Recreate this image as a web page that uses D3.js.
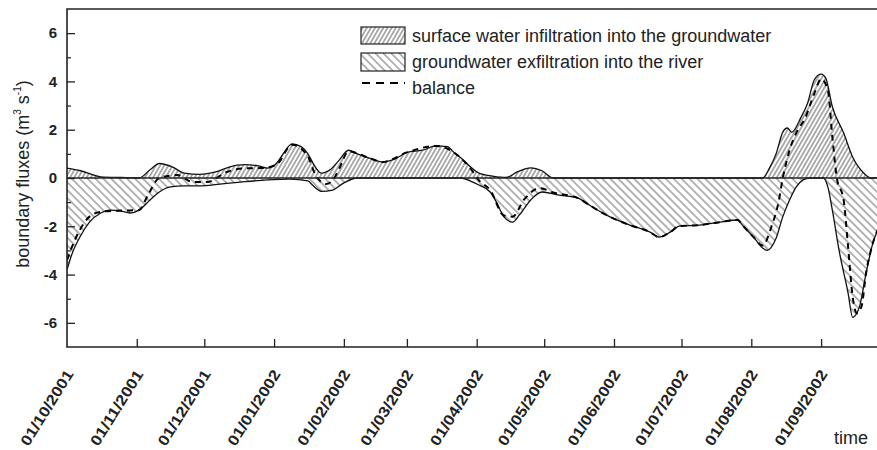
<!DOCTYPE html>
<html>
<head>
<meta charset="utf-8">
<script src="https://cdn.jsdelivr.net/npm/d3@7"></script>
<style>
body{margin:0;background:#fff;}
svg{display:block;font-family:Arial,"Liberation Sans",sans-serif;}
</style>
</head>
<body>
<script>
// surface water infiltration into the groundwater (positive)
var infiltration = [
  ["2001-10-01",0.41],["2001-10-07",0.3],["2001-10-16",0.05],["2001-10-25",0.02],["2001-11-02",0.0],
  ["2001-11-07",0.35],["2001-11-11",0.6],["2001-11-17",0.45],["2001-11-22",0.2],["2001-11-29",0.15],
  ["2001-12-06",0.25],["2001-12-12",0.45],["2001-12-19",0.55],["2001-12-25",0.5],["2001-12-29",0.41],
  ["2002-01-02",0.6],["2002-01-05",1.0],["2002-01-09",1.41],["2002-01-13",1.3],["2002-01-16",1.0],
  ["2002-01-19",0.5],["2002-01-22",0.2],["2002-01-26",0.35],["2002-01-30",0.75],["2002-02-03",1.15],
  ["2002-02-07",1.0],["2002-02-13",0.8],["2002-02-18",0.66],["2002-02-24",0.8],["2002-03-01",1.06],
  ["2002-03-08",1.15],["2002-03-14",1.33],["2002-03-19",1.3],["2002-03-22",1.05],["2002-03-26",0.75],
  ["2002-03-30",0.4],["2002-04-02",0.2],["2002-04-08",0.08],["2002-04-14",0.02],["2002-04-19",0.25],
  ["2002-04-25",0.42],["2002-04-30",0.3],["2002-05-05",0.0],["2002-08-06",0.0],["2002-08-09",0.4],
  ["2002-08-12",1.0],["2002-08-15",1.9],["2002-08-17",2.07],["2002-08-19",1.9],["2002-08-23",2.5],
  ["2002-08-26",3.1],["2002-08-29",4.07],["2002-09-01",4.3],["2002-09-03",4.15],["2002-09-06",2.95],
  ["2002-09-11",1.87],["2002-09-15",0.87],["2002-09-20",0.2],["2002-09-23",0.0],["2002-09-27",0.0]
];

// groundwater exfiltration into the river (negative)
var exfiltration = [
  ["2001-10-01",-3.8],["2001-10-03",-3.2],["2001-10-07",-2.4],["2001-10-11",-1.83],["2001-10-16",-1.45],
  ["2001-10-20",-1.33],["2001-10-25",-1.37],["2001-10-29",-1.45],["2001-11-02",-1.33],["2001-11-07",-0.9],
  ["2001-11-11",-0.58],["2001-11-16",-0.37],["2001-11-22",-0.33],["2001-11-29",-0.33],["2001-12-08",-0.25],
  ["2001-12-17",-0.17],["2001-12-29",-0.08],["2002-01-08",-0.05],["2002-01-16",-0.12],["2002-01-18",-0.29],
  ["2002-01-22",-0.55],["2002-01-27",-0.5],["2002-02-01",-0.2],["2002-02-07",0.0],["2002-03-25",0.0],
  ["2002-03-29",-0.12],["2002-04-02",-0.29],["2002-04-07",-0.58],["2002-04-10",-1.04],["2002-04-13",-1.6],
  ["2002-04-17",-1.83],["2002-04-20",-1.53],["2002-04-25",-0.91],["2002-04-30",-0.58],["2002-05-07",-0.7],
  ["2002-05-16",-0.83],["2002-05-21",-1.12],["2002-05-30",-1.6],["2002-06-08",-1.95],["2002-06-17",-2.24],
  ["2002-06-21",-2.45],["2002-06-26",-2.24],["2002-06-30",-1.99],["2002-07-09",-1.95],["2002-07-18",-1.83],
  ["2002-07-26",-1.74],["2002-07-28",-1.95],["2002-08-02",-2.45],["2002-08-06",-2.9],["2002-08-08",-3.0],
  ["2002-08-12",-2.5],["2002-08-15",-1.6],["2002-08-18",-0.91],["2002-08-21",-0.37],["2002-08-24",-0.08],
  ["2002-08-27",0.0],["2002-09-02",0.0],["2002-09-04",-0.37],["2002-09-06",-1.33],["2002-09-09",-3.0],
  ["2002-09-13",-4.77],["2002-09-15",-5.77],["2002-09-18",-5.35],["2002-09-21",-3.94],["2002-09-24",-2.7],
  ["2002-09-27",-2.0]
];

// balance (dashed)
var balance = [
  ["2001-10-01",-3.4],["2001-10-03",-2.9],["2001-10-07",-2.1],["2001-10-11",-1.6],["2001-10-16",-1.4],
  ["2001-10-25",-1.35],["2001-11-02",-1.33],["2001-11-06",-0.7],["2001-11-11",0.0],["2001-11-19",0.12],
  ["2001-11-26",-0.17],["2001-12-02",-0.17],["2001-12-11",0.25],["2001-12-19",0.4],["2001-12-26",0.41],
  ["2002-01-02",0.55],["2002-01-09",1.38],["2002-01-16",0.9],["2002-01-19",0.2],["2002-01-24",-0.25],
  ["2002-01-27",-0.1],["2002-01-30",0.4],["2002-02-03",1.1],["2002-02-13",0.8],["2002-02-18",0.66],
  ["2002-03-01",1.06],["2002-03-14",1.33],["2002-03-22",1.05],["2002-03-30",0.3],["2002-04-02",-0.1],
  ["2002-04-07",-0.5],["2002-04-13",-1.55],["2002-04-17",-1.6],["2002-04-22",-0.9],["2002-04-29",-0.42],
  ["2002-05-05",-0.6],["2002-05-16",-0.83],["2002-05-21",-1.12],["2002-05-30",-1.6],["2002-06-08",-1.95],
  ["2002-06-17",-2.24],["2002-06-21",-2.45],["2002-06-26",-2.24],["2002-06-30",-1.99],["2002-07-09",-1.95],
  ["2002-07-18",-1.83],["2002-07-26",-1.74],["2002-07-28",-1.95],["2002-08-02",-2.45],["2002-08-06",-2.8],
  ["2002-08-10",-2.0],["2002-08-13",-1.04],["2002-08-15",0.0],["2002-08-18",1.16],["2002-08-21",1.87],
  ["2002-08-25",2.5],["2002-08-29",3.5],["2002-09-01",4.1],["2002-09-04",3.65],["2002-09-06",1.7],
  ["2002-09-08",0.0],["2002-09-11",-0.9],["2002-09-13",-2.85],["2002-09-15",-4.9],["2002-09-17",-5.6],
  ["2002-09-19",-5.3],["2002-09-21",-3.94],["2002-09-24",-2.7],["2002-09-27",-2.0]
];

var monthTicks = ["01/10/2001","01/11/2001","01/12/2001","01/01/2002","01/02/2002","01/03/2002",
  "01/04/2002","01/05/2002","01/06/2002","01/07/2002","01/08/2002","01/09/2002"];
var yMajor = [-6,-4,-2,0,2,4,6];
var yMinor = [-5,-3,-1,1,3,5];
var legendLabels = ["surface water infiltration into the groundwater","groundwater exfiltration into the river","balance"];

var parseDate = d3.timeParse("%Y-%m-%d");
var parseTick = d3.timeParse("%d/%m/%Y");
function toPoints(arr){ return arr.map(function(d){ return {date: parseDate(d[0]), v: d[1]}; }); }
var posData = toPoints(infiltration), negData = toPoints(exfiltration), balData = toPoints(balance);

var W = 877, H = 450;
var pLeft = 67, pTop = 9, pBottom = 347;

var x = d3.scaleTime().domain([parseDate("2001-10-01"), parseDate("2002-10-01")]).range([pLeft, pLeft + 365*2.251]);
var y = d3.scaleLinear().domain([-7, 7]).range([pBottom, pTop]);

var svg = d3.select("body").append("svg").attr("width", W).attr("height", H);
var defs = svg.append("defs");

// hatch patterns
var pPos = defs.append("pattern").attr("id","hatchPos").attr("patternUnits","userSpaceOnUse")
  .attr("width",3.6).attr("height",6).attr("patternTransform","rotate(30)");
pPos.append("rect").attr("width",3.6).attr("height",6).attr("fill","#fff");
pPos.append("line").attr("x1",1.8).attr("x2",1.8).attr("y1",0).attr("y2",6).attr("stroke","#444").attr("stroke-width",0.9);

var pNeg = defs.append("pattern").attr("id","hatchNeg").attr("patternUnits","userSpaceOnUse")
  .attr("width",5.6).attr("height",6).attr("patternTransform","rotate(-45)");
pNeg.append("rect").attr("width",5.6).attr("height",6).attr("fill","#fff");
pNeg.append("line").attr("x1",2.8).attr("x2",2.8).attr("y1",0).attr("y2",6).attr("stroke","#555").attr("stroke-width",0.9);

defs.append("clipPath").attr("id","plotClip").append("rect")
  .attr("x",pLeft).attr("y",pTop).attr("width",W-pLeft).attr("height",pBottom-pTop);

var plot = svg.append("g").attr("clip-path","url(#plotClip)");

var area = d3.area().x(function(d){ return x(d.date); }).y0(y(0)).y1(function(d){ return y(d.v); }).curve(d3.curveMonotoneX);
var line = d3.line().x(function(d){ return x(d.date); }).y(function(d){ return y(d.v); }).curve(d3.curveMonotoneX);

plot.append("path").datum(negData).attr("d",area).attr("fill","url(#hatchNeg)");
plot.append("path").datum(posData).attr("d",area).attr("fill","url(#hatchPos)");
plot.append("path").datum(negData).attr("d",line).attr("fill","none").attr("stroke","#111").attr("stroke-width",1.3);
plot.append("path").datum(posData).attr("d",line).attr("fill","none").attr("stroke","#111").attr("stroke-width",1.3);
plot.append("path").datum(balData).attr("d",line).attr("fill","none").attr("stroke","#000")
  .attr("stroke-width",2).attr("stroke-dasharray","6,5");

// zero line
svg.append("line").attr("x1",pLeft).attr("x2",W).attr("y1",y(0)).attr("y2",y(0)).attr("stroke","#222").attr("stroke-width",1.6);

// y axis, ticks pointing inward
var yAxis = svg.append("g").attr("transform","translate("+pLeft+",0)")
  .call(d3.axisLeft(y).tickValues(yMajor).tickSizeInner(-8).tickSizeOuter(0).tickPadding(10)
    .tickFormat(function(d){ return String(d); }));
yAxis.select(".domain").remove();
yAxis.selectAll("line").attr("stroke","#222").attr("stroke-width",1.3);
yAxis.selectAll("text").attr("font-size","15px").attr("font-weight","bold").attr("fill","#222")
  .attr("font-family","Arial, 'Liberation Sans', sans-serif");

var yMinorAxis = svg.append("g").attr("transform","translate("+pLeft+",0)")
  .call(d3.axisLeft(y).tickValues(yMinor).tickSizeInner(-4).tickSizeOuter(0).tickFormat(""));
yMinorAxis.select(".domain").remove();
yMinorAxis.selectAll("line").attr("stroke","#222").attr("stroke-width",1.2);

// x axis
var tickDates = monthTicks.map(function(s){ return parseTick(s); });
var xAxis = svg.append("g").attr("transform","translate(0,"+pBottom+")")
  .call(d3.axisBottom(x).tickValues(tickDates.slice(1)).tickSizeInner(-8).tickSizeOuter(0).tickFormat(""));
xAxis.select(".domain").remove();
xAxis.selectAll("line").attr("stroke","#222").attr("stroke-width",1.3);

svg.append("g").selectAll("text").data(monthTicks).enter().append("text")
  .attr("transform", function(d){ return "translate(" + (x(parseTick(d)) + 7) + ",374) rotate(-58)"; })
  .attr("text-anchor","end")
  .attr("font-size","15px").attr("font-weight","bold").attr("fill","#222")
  .attr("textLength",86).attr("lengthAdjust","spacingAndGlyphs")
  .text(function(d){ return d; });

// frame
svg.append("path").attr("d","M"+W+","+pTop+"H"+pLeft+"V"+pBottom+"H"+W)
  .attr("fill","none").attr("stroke","#222").attr("stroke-width",1.6);

// axis titles
var yTitle = svg.append("text").attr("transform","translate(29,174) rotate(-90)")
  .attr("text-anchor","middle").attr("font-size","18px").attr("fill","#222");
yTitle.append("tspan").text("boundary fluxes (m");
yTitle.append("tspan").attr("font-size","10px").attr("dy",-8).text("3");
yTitle.append("tspan").attr("dy",8).text(" s");
yTitle.append("tspan").attr("font-size","10px").attr("dy",-8).text("-1");
yTitle.append("tspan").attr("dy",8).text(")");

svg.append("text").attr("x",834).attr("y",444).attr("font-size","18px").attr("fill","#222").text("time");

// legend
var legend = svg.append("g").attr("transform","translate(361,27)");
legend.append("rect").attr("x",0).attr("y",0).attr("width",44).attr("height",17)
  .attr("fill","url(#hatchPos)").attr("stroke","#222").attr("stroke-width",1.2);
legend.append("rect").attr("x",0).attr("y",26).attr("width",44).attr("height",18)
  .attr("fill","url(#hatchNeg)").attr("stroke","#222").attr("stroke-width",1.2);
legend.append("line").attr("x1",1).attr("x2",44).attr("y1",56).attr("y2",56)
  .attr("stroke","#000").attr("stroke-width",2).attr("stroke-dasharray","8,6");
legend.selectAll("text.lg").data(legendLabels).enter().append("text").attr("class","lg")
  .attr("x",51).attr("y",function(d,i){ return 15 + i*26; })
  .attr("font-size","18px").attr("fill","#222").text(function(d){ return d; });
</script>
</body>
</html>
